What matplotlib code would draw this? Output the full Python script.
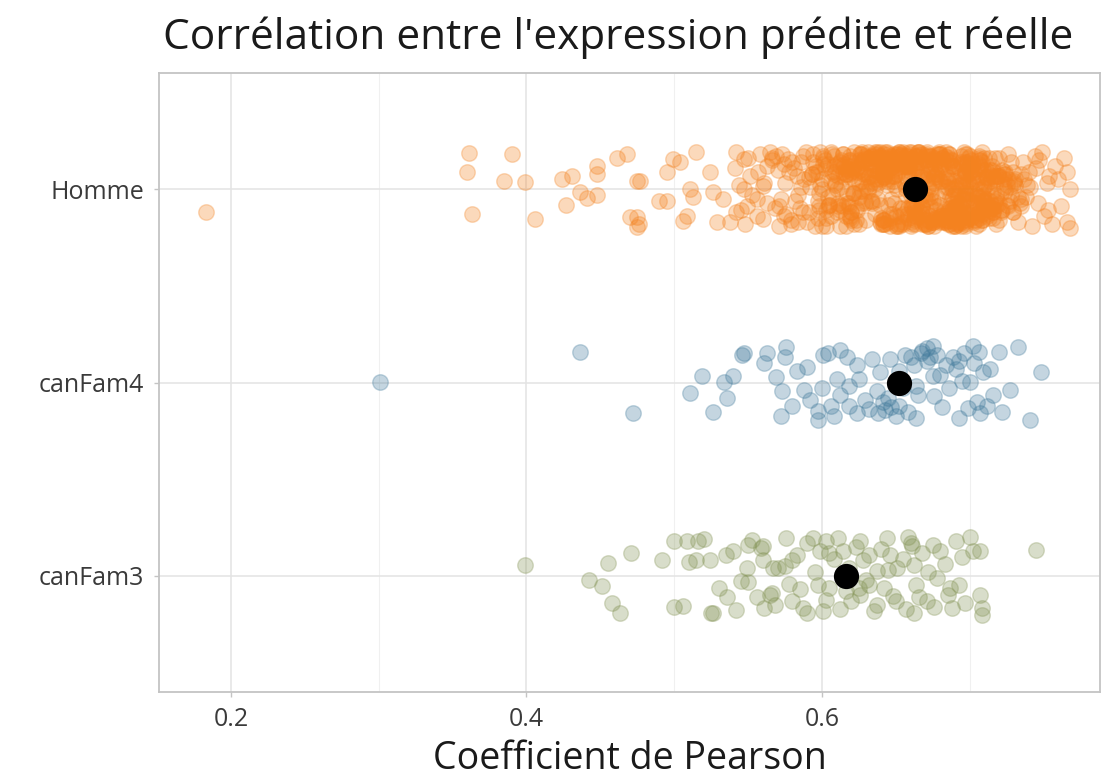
import matplotlib
matplotlib.use("Agg")
import matplotlib.pyplot as plt
from matplotlib.ticker import MultipleLocator

plt.rcParams['font.family'] = ['Open Sans', 'DejaVu Sans']

categories = ["canFam3", "canFam4", "Homme"]
colors = {"Homme": "#F4821F", "canFam4": "#3D7799", "canFam3": "#809050"}
means = {"Homme": 0.663, "canFam4": 0.652, "canFam3": 0.616}

# ---- Homme: sparse left part ----
homme_sparse_x = [0.183, 0.361, 0.360, 0.385, 0.390, 0.399, 0.363, 0.406, 0.424, 0.431,
                  0.427, 0.436, 0.441, 0.448, 0.448, 0.448, 0.461, 0.468, 0.475, 0.470,
                  0.475, 0.477, 0.475, 0.476, 0.490, 0.495, 0.499, 0.504, 0.495, 0.515,
                  0.511, 0.513, 0.509, 0.506, 0.524, 0.526, 0.533, 0.529, 0.538, 0.542,
                  0.547, 0.551, 0.547, 0.549, 0.542, 0.556, 0.560, 0.560, 0.565, 0.570,
                  0.572, 0.574, 0.577, 0.583, 0.587, 0.585, 0.590, 0.596, 0.600, 0.598,
                  0.602, 0.563, 0.568, 0.575, 0.579, 0.581, 0.584, 0.588, 0.591, 0.594,
                  0.597, 0.566, 0.571, 0.586, 0.592, 0.578]
homme_sparse_j = [-0.12, 0.186, 0.09, 0.04, 0.18, 0.035, -0.13, -0.155, 0.05, 0.07,
                  -0.08, -0.015, -0.045, 0.12, 0.08, -0.03, 0.16, 0.18, 0.04, -0.145,
                  -0.195, 0.04, -0.145, -0.18, -0.06, -0.06, 0.155, 0.14, 0.09, 0.19,
                  0.0, -0.04, -0.14, -0.165, 0.09, -0.015, -0.05, -0.17, -0.17, 0.19,
                  0.155, 0.07, 0.0, -0.09, -0.12, -0.05, 0.015, -0.155, 0.19, 0.10,
                  -0.05, -0.14, 0.155, 0.07, 0.17, -0.10, -0.17, 0.09, 0.0, -0.09,
                  0.15, 0.12, -0.10, 0.03, -0.18, 0.11, -0.03, 0.05, -0.12, 0.18,
                  -0.15, 0.16, -0.19, 0.14, 0.01, 0.09]

# ---- Homme: medium-density band ----
homme_mid_x = [0.541, 0.556, 0.569, 0.582, 0.593, 0.548, 0.561, 0.574, 0.587, 0.599,
               0.553, 0.566, 0.579, 0.591, 0.544, 0.558, 0.571, 0.584, 0.596, 0.550,
               0.563, 0.576, 0.589, 0.598, 0.545, 0.557, 0.573, 0.586, 0.595, 0.580]
homme_mid_j = [0.11, -0.14, 0.17, -0.06, 0.08, -0.18, 0.03, 0.13, -0.12, 0.19,
               -0.03, 0.15, -0.16, 0.06, 0.02, 0.18, -0.09, -0.17, 0.12, 0.16,
               -0.07, -0.13, 0.19, -0.02, -0.11, 0.09, 0.18, 0.01, -0.19, 0.14]

# ---- Homme: dense core (part 1) ----
homme_core_x = [
    0.612, 0.647, 0.683, 0.701, 0.625, 0.668, 0.719, 0.594, 0.655, 0.690,
    0.636, 0.708, 0.621, 0.674, 0.697, 0.642, 0.715, 0.603, 0.660, 0.687,
    0.628, 0.653, 0.711, 0.679, 0.617, 0.694, 0.641, 0.723, 0.666, 0.699,
    0.607, 0.684, 0.632, 0.706, 0.659, 0.673, 0.621, 0.718, 0.648, 0.692,
    0.614, 0.661, 0.703, 0.638, 0.677, 0.727, 0.599, 0.689, 0.652, 0.713,
    0.644, 0.671, 0.624, 0.696, 0.709, 0.633, 0.681, 0.657, 0.719, 0.606,
    0.669, 0.702, 0.615, 0.648, 0.686, 0.721, 0.638, 0.663, 0.694, 0.627,
    0.676, 0.611, 0.654, 0.705, 0.641, 0.698, 0.667, 0.716, 0.629, 0.685,
    0.597, 0.639, 0.672, 0.707, 0.651, 0.688, 0.619, 0.724, 0.662, 0.700,
    0.631, 0.679, 0.712, 0.645, 0.604, 0.693, 0.658, 0.717, 0.626, 0.670,
    0.689, 0.616, 0.665, 0.704, 0.637, 0.681, 0.649, 0.728, 0.608, 0.697,
    0.656, 0.620, 0.710, 0.674, 0.643, 0.699, 0.632, 0.686, 0.714, 0.661,
    0.601, 0.678, 0.635, 0.706, 0.668, 0.622, 0.691, 0.650, 0.720, 0.683,
    0.646, 0.700, 0.613, 0.675, 0.709, 0.639, 0.664, 0.695, 0.627, 0.717,
    0.659, 0.688, 0.618, 0.702, 0.653, 0.680, 0.734, 0.630, 0.671, 0.711,
    0.605, 0.666, 0.698, 0.644, 0.684, 0.623, 0.713, 0.655, 0.692, 0.640,
    0.673, 0.610, 0.708, 0.651, 0.696, 0.634, 0.682, 0.725, 0.662, 0.619,
    0.687, 0.647, 0.704, 0.628, 0.670, 0.716, 0.657, 0.699, 0.615, 0.678,
    0.636, 0.693, 0.665, 0.722, 0.609, 0.685, 0.648, 0.707, 0.674, 0.631,
    0.700, 0.654, 0.618, 0.690, 0.661, 0.712, 0.642, 0.679, 0.625, 0.696,
    0.667, 0.603, 0.710, 0.650, 0.688, 0.737, 0.634, 0.676, 0.715, 0.658,
    0.621, 0.694, 0.645, 0.703, 0.669, 0.612, 0.686, 0.729, 0.652, 0.680,
    0.640, 0.709, 0.664, 0.597, 0.697, 0.626, 0.675, 0.718, 0.656, 0.691,
    0.616, 0.683, 0.648, 0.706, 0.663, 0.629, 0.701, 0.672, 0.739, 0.608,
    0.677, 0.637, 0.695, 0.659, 0.714, 0.623, 0.687, 0.644, 0.705, 0.668,
    0.600, 0.660, 0.720, 0.681, 0.633, 0.698, 0.653, 0.711, 0.617, 0.689,
    0.646, 0.703, 0.671, 0.627, 0.692, 0.730, 0.658, 0.614, 0.684, 0.708,
    0.638, 0.676, 0.699, 0.651, 0.719, 0.606, 0.665, 0.693, 0.628, 0.713,
    0.682, 0.620, 0.654, 0.707, 0.641, 0.686, 0.670, 0.726, 0.611, 0.697,
    0.662, 0.700, 0.635, 0.679, 0.716, 0.649, 0.690, 0.624, 0.673, 0.733,
    0.593, 0.657, 0.704, 0.642, 0.685, 0.618, 0.695, 0.666, 0.721, 0.631,
    0.672, 0.709, 0.647, 0.689, 0.613, 0.661, 0.702, 0.639, 0.678, 0.715,
    0.655, 0.694, 0.622, 0.706, 0.668, 0.735, 0.643, 0.683, 0.607, 0.699,
    0.686, 0.629, 0.674, 0.712, 0.650, 0.697, 0.619, 0.663, 0.723, 0.641,
    0.604, 0.680, 0.658, 0.701, 0.636, 0.691, 0.671, 0.714, 0.645, 0.688]
homme_core_j = [
    0.12, -0.05, 0.17, -0.15, 0.03, -0.18, 0.08, 0.14, -0.10, 0.01,
    -0.13, 0.19, -0.02, 0.10, -0.17, 0.06, -0.08, -0.19, 0.15, -0.04,
    0.09, -0.14, 0.02, 0.18, -0.07, 0.13, -0.16, 0.05, -0.11, 0.16,
    -0.03, 0.07, 0.16, -0.12, 0.19, -0.09, 0.11, -0.18, 0.04, -0.15,
    0.18, -0.01, -0.16, 0.14, 0.08, -0.06, 0.02, 0.12, -0.19, -0.10,
    0.05, 0.15, -0.11, -0.05, 0.10, 0.17, -0.14, 0.00, -0.08, 0.19,
    -0.17, 0.04, 0.13, -0.13, 0.16, -0.02, 0.09, -0.18, 0.07, -0.07,
    0.11, -0.09, 0.18, 0.03, -0.16, 0.14, -0.04, -0.12, 0.17, 0.06,
    -0.06, 0.16, -0.19, 0.12, 0.00, -0.11, 0.15, 0.08, -0.15, -0.02,
    0.19, -0.17, 0.06, -0.08, 0.13, 0.02, -0.13, 0.16, 0.10, -0.18,
    -0.10, 0.08, 0.14, -0.19, 0.05, -0.15, 0.18, -0.03, 0.12, 0.09,
    0.02, -0.12, -0.06, 0.17, -0.18, 0.11, 0.07, -0.14, 0.04, 0.15,
    0.16, -0.04, 0.10, 0.06, -0.13, 0.19, -0.09, 0.13, -0.16, -0.01,
    -0.15, 0.12, -0.08, -0.17, 0.01, 0.09, 0.17, -0.05, 0.14, 0.03,
    0.07, -0.19, 0.15, 0.10, -0.10, 0.04, -0.07, -0.16, 0.18, -0.12,
    -0.08, 0.18, -0.03, 0.13, -0.14, 0.11, 0.16, -0.17, -0.09, 0.05,
    0.14, 0.00, -0.16, 0.08, 0.19, -0.07, -0.12, 0.02, 0.11, -0.14,
    -0.18, 0.10, 0.05, 0.15, -0.05, -0.10, 0.17, -0.15, 0.06, 0.13,
    0.03, -0.07, 0.19, -0.11, 0.09, -0.18, 0.12, 0.00, -0.17, 0.16,
    -0.12, 0.14, -0.09, 0.04, 0.16, -0.13, 0.08, 0.18, -0.04, -0.16,
    0.10, -0.15, 0.01, -0.19, 0.12, 0.05, -0.06, 0.15, -0.10, 0.17,
    -0.02, 0.17, 0.12, -0.07, -0.16, 0.14, 0.03, -0.12, 0.19, -0.08,
    0.15, -0.03, -0.14, 0.09, 0.18, -0.01, -0.17, 0.07, 0.13, -0.11,
    -0.14, 0.05, 0.17, -0.04, -0.12, 0.16, 0.10, -0.19, 0.02, 0.08,
    0.06, 0.19, -0.10, 0.11, -0.06, -0.16, 0.14, 0.04, -0.13, 0.18,
    -0.19, -0.08, 0.07, 0.16, 0.13, -0.05, -0.18, 0.10, -0.02, 0.11,
    0.17, 0.09, -0.13, -0.01, -0.17, 0.03, 0.12, -0.09, 0.15, -0.06,
    -0.05, 0.13, 0.04, -0.18, 0.07, -0.14, 0.19, -0.11, 0.08, 0.01,
    0.13, -0.16, 0.16, -0.09, 0.10, 0.18, -0.03, 0.05, -0.07, -0.18,
    -0.11, 0.02, 0.18, 0.13, -0.15, 0.07, -0.19, 0.11, 0.17, -0.04,
    0.08, 0.16, -0.07, -0.16, 0.04, 0.12, -0.13, 0.19, -0.12, 0.14,
    -0.16, -0.11, 0.11, 0.00, 0.15, -0.17, 0.06, -0.08, 0.18, 0.10,
    0.04, 0.14, -0.18, 0.17, -0.09, 0.08, 0.16, -0.14, 0.09, -0.13,
    0.18, -0.06, 0.09, -0.14, 0.11, -0.02, -0.15, 0.17, 0.01, 0.12,
    -0.09, 0.11, -0.15, 0.07, 0.19, -0.18, 0.05, -0.10, 0.14, -0.05]

# ---- Homme: dense core (part 2) ----
homme_core2_x = [
    0.618, 0.702, 0.655, 0.689, 0.631, 0.724, 0.667, 0.608, 0.695, 0.646,
    0.679, 0.623, 0.713, 0.657, 0.698, 0.640, 0.685, 0.602, 0.671, 0.719,
    0.650, 0.694, 0.616, 0.706, 0.663, 0.633, 0.728, 0.677, 0.644, 0.690,
    0.609, 0.672, 0.711, 0.637, 0.684, 0.657, 0.699, 0.625, 0.717, 0.662,
    0.693, 0.641, 0.676, 0.620, 0.708, 0.652, 0.735, 0.614, 0.687, 0.669,
    0.631, 0.706, 0.658, 0.696, 0.605, 0.681, 0.645, 0.722, 0.673, 0.638,
    0.700, 0.618, 0.666, 0.712, 0.649, 0.690, 0.627, 0.679, 0.598, 0.704,
    0.661, 0.633, 0.697, 0.642, 0.716, 0.675, 0.611, 0.686, 0.655, 0.730,
    0.622, 0.688, 0.647, 0.703, 0.668, 0.636, 0.710, 0.659, 0.695, 0.615,
    0.683, 0.652, 0.720, 0.628, 0.674, 0.697, 0.641, 0.706, 0.666, 0.603,
    0.639, 0.709, 0.670, 0.613, 0.692, 0.655, 0.725, 0.682, 0.634, 0.700,
    0.696, 0.626, 0.662, 0.714, 0.644, 0.687, 0.606, 0.676, 0.718, 0.650,
    0.657, 0.691, 0.619, 0.705, 0.680, 0.638, 0.698, 0.664, 0.727, 0.629,
    0.612, 0.678, 0.648, 0.711, 0.635, 0.694, 0.669, 0.622, 0.707, 0.685,
    0.673, 0.640, 0.703, 0.660, 0.690, 0.617, 0.716, 0.653, 0.682, 0.600,
    0.646, 0.718, 0.681, 0.625, 0.699, 0.663, 0.637, 0.710, 0.672, 0.692,
    0.705, 0.658, 0.614, 0.686, 0.644, 0.723, 0.676, 0.632, 0.697, 0.654,
    0.624, 0.694, 0.666, 0.707, 0.651, 0.610, 0.689, 0.720, 0.642, 0.678,
    0.688, 0.635, 0.713, 0.670, 0.604, 0.701, 0.659, 0.683, 0.627, 0.731,
    0.651, 0.699, 0.621, 0.677, 0.715, 0.643, 0.692, 0.664, 0.609, 0.706,
    0.667, 0.711, 0.639, 0.695, 0.656, 0.685, 0.619, 0.724, 0.673, 0.646,
    0.601, 0.680, 0.653, 0.702, 0.630, 0.671, 0.717, 0.647, 0.690, 0.661,
    0.692, 0.643, 0.708, 0.616, 0.684, 0.660, 0.698, 0.635, 0.726, 0.676,
    0.637, 0.672, 0.620, 0.694, 0.712, 0.649, 0.681, 0.607, 0.665, 0.703,
    0.675, 0.616, 0.689, 0.658, 0.721, 0.639, 0.697, 0.668, 0.629, 0.713,
    0.649, 0.706, 0.676, 0.627, 0.691, 0.663, 0.610, 0.684, 0.718, 0.641,
    0.697, 0.633, 0.660, 0.714, 0.645, 0.679, 0.702, 0.621, 0.688, 0.655,
    0.612, 0.687, 0.641, 0.700, 0.670, 0.729, 0.652, 0.693, 0.634, 0.675,
    0.684, 0.658, 0.619, 0.710, 0.646, 0.690, 0.667, 0.705, 0.601, 0.679,
    0.640, 0.697, 0.671, 0.626, 0.715, 0.661, 0.688, 0.644, 0.708, 0.666]
homme_core2_j = [
    -0.07, 0.13, 0.19, -0.16, 0.06, -0.01, -0.12, 0.17, 0.03, -0.19,
    0.15, -0.10, 0.08, -0.03, 0.18, -0.15, 0.01, 0.11, -0.18, 0.07,
    -0.14, 0.04, -0.19, 0.16, 0.10, -0.06, 0.14, -0.11, 0.19, -0.02,
    0.02, 0.17, -0.09, 0.12, -0.17, 0.07, -0.13, 0.15, 0.05, -0.08,
    0.11, -0.18, 0.03, -0.12, 0.14, 0.19, -0.05, 0.09, -0.14, 0.16,
    -0.01, -0.15, 0.12, 0.06, -0.08, 0.16, -0.17, 0.10, -0.04, 0.13,
    0.17, 0.08, -0.14, -0.07, 0.02, -0.19, 0.19, 0.05, -0.11, -0.16,
    -0.10, 0.14, -0.02, 0.18, -0.12, -0.06, 0.07, 0.12, -0.18, 0.04,
    0.05, -0.13, 0.16, -0.17, 0.09, 0.00, -0.09, 0.18, -0.15, 0.12,
    -0.17, 0.10, -0.07, 0.14, -0.02, 0.06, -0.18, 0.13, 0.17, -0.11,
    0.19, -0.04, 0.15, 0.01, -0.15, 0.12, -0.08, -0.13, 0.07, 0.09,
    -0.06, 0.18, -0.16, 0.09, 0.16, -0.10, 0.04, -0.19, -0.03, 0.14,
    0.12, -0.11, 0.06, -0.14, 0.18, 0.03, -0.16, 0.11, 0.01, -0.07,
    -0.19, 0.08, 0.13, -0.05, 0.17, -0.13, 0.06, -0.02, 0.15, -0.16,
    0.00, 0.16, -0.12, 0.19, -0.09, 0.10, -0.01, 0.14, -0.17, 0.05,
    0.15, -0.08, 0.04, -0.18, 0.11, -0.14, 0.18, -0.06, 0.08, -0.12,
    -0.03, 0.12, 0.18, -0.10, 0.15, 0.08, -0.15, 0.01, -0.19, 0.17,
    0.09, -0.17, 0.00, 0.11, -0.19, 0.13, -0.07, 0.16, 0.06, -0.09,
    -0.13, 0.05, -0.11, 0.17, -0.04, 0.15, 0.10, -0.16, 0.18, 0.02,
    0.18, -0.02, 0.10, -0.15, 0.07, 0.12, -0.18, -0.08, 0.03, 0.15,
    -0.08, 0.06, -0.17, 0.02, 0.14, -0.12, 0.17, 0.09, -0.14, 0.11,
    0.13, -0.14, 0.17, -0.11, 0.01, 0.19, -0.06, 0.07, 0.12, -0.18,
    -0.04, 0.19, -0.13, 0.08, -0.16, -0.03, 0.13, 0.16, -0.09, 0.06,
    0.16, 0.01, 0.09, -0.19, 0.05, -0.07, -0.14, 0.18, 0.14, -0.02,
    -0.16, 0.11, -0.04, 0.15, -0.11, 0.17, 0.02, -0.10, 0.08, -0.15,
    0.07, -0.18, 0.16, 0.04, -0.07, 0.14, -0.12, 0.19, -0.05, 0.10,
    0.14, 0.03, -0.19, 0.10, 0.18, -0.16, -0.09, 0.12, 0.00, -0.13,
    -0.11, 0.15, 0.07, -0.06, -0.18, 0.09, 0.18, -0.14, 0.11, 0.04,
    0.01, -0.10, 0.14, 0.16, -0.13, -0.17, 0.06, -0.04, 0.17, 0.19,
    -0.18, 0.09, -0.05, 0.18, 0.12, -0.09, 0.15, 0.02, -0.16, 0.08]

# ---- Homme: right tail ----
homme_tail_x = [0.726, 0.729, 0.731, 0.733, 0.736, 0.738, 0.740, 0.742, 0.744, 0.747,
                0.746, 0.749, 0.750, 0.752, 0.754, 0.756, 0.758, 0.760, 0.762, 0.764,
                0.766, 0.766, 0.768, 0.768, 0.741, 0.735, 0.745, 0.753]
homme_tail_j = [0.18, -0.12, 0.05, -0.17, 0.14, -0.04, 0.09, -0.19, 0.17, 0.15,
                -0.07, 0.19, -0.14, 0.03, 0.07, -0.18, 0.12, 0.05, -0.09, 0.16,
                0.09, -0.17, -0.20, 0.00, 0.01, -0.09, 0.11, -0.11]

# ---- canFam4 ----
cf4_x = [0.301, 0.436, 0.472, 0.519, 0.511, 0.526, 0.534, 0.536, 0.540, 0.546,
         0.547, 0.563, 0.561, 0.576, 0.575, 0.583, 0.573, 0.572, 0.588, 0.592,
         0.601, 0.604, 0.597, 0.597, 0.610, 0.612, 0.617, 0.624, 0.618, 0.608,
         0.624, 0.639, 0.641, 0.637, 0.632, 0.646, 0.647, 0.650, 0.656, 0.664,
         0.665, 0.668, 0.671, 0.675, 0.678, 0.673, 0.664, 0.675, 0.681, 0.689,
         0.691, 0.695, 0.693, 0.702, 0.706, 0.700, 0.705, 0.707, 0.709, 0.714,
         0.716, 0.720, 0.722, 0.727, 0.733, 0.748, 0.741,
         0.660, 0.667, 0.671, 0.662, 0.645, 0.652, 0.638, 0.629, 0.643, 0.655,
         0.684, 0.686, 0.693, 0.699, 0.696, 0.600, 0.625, 0.618, 0.634, 0.612,
         0.590, 0.580, 0.569, 0.606, 0.652, 0.658, 0.676, 0.680, 0.712, 0.703]
cf4_j = [0.005, 0.16, -0.16, 0.035, -0.055, -0.15, 0.005, -0.08, 0.035, 0.14,
         0.15, 0.15, 0.10, 0.185, 0.13, 0.06, -0.045, -0.175, -0.04, -0.09,
         0.14, 0.15, -0.145, -0.195, 0.02, -0.065, 0.13, 0.09, -0.12, -0.175,
         -0.16, 0.055, -0.10, -0.045, -0.135, 0.12, -0.125, -0.175, 0.14, -0.02,
         -0.065, 0.165, 0.11, 0.19, 0.14, 0.13, -0.185, 0.035, -0.125, 0.13,
         0.07, 0.01, -0.185, 0.19, 0.16, 0.005, -0.10, -0.16, 0.055, 0.07,
         -0.065, 0.16, -0.15, -0.04, 0.185, 0.055, -0.195,
         0.13, 0.15, 0.18, 0.09, -0.08, -0.12, -0.16, -0.09, -0.14, -0.03,
         0.09, -0.03, 0.11, -0.13, 0.15, -0.03, 0.02, -0.02, 0.12, 0.17,
         0.08, -0.12, 0.03, -0.12, 0.06, -0.15, -0.07, 0.04, -0.12, 0.10]

# ---- canFam3 ----
cf3_x = [0.399, 0.471, 0.455, 0.442, 0.451, 0.458, 0.463, 0.492, 0.500, 0.509,
         0.516, 0.515, 0.524, 0.506, 0.526, 0.540, 0.553, 0.559, 0.549, 0.545,
         0.536, 0.542, 0.556, 0.561, 0.567, 0.566, 0.560, 0.570, 0.565, 0.576,
         0.583, 0.580, 0.587, 0.594, 0.599, 0.597, 0.603, 0.601, 0.611, 0.614,
         0.626, 0.632, 0.626, 0.632, 0.637, 0.637, 0.644, 0.646, 0.651, 0.648,
         0.658, 0.661, 0.662, 0.664, 0.666, 0.671, 0.675, 0.680, 0.678, 0.685,
         0.688, 0.691, 0.693, 0.700, 0.702, 0.707, 0.707, 0.708, 0.708, 0.745,
         0.510, 0.520, 0.550, 0.525, 0.500,
         0.575, 0.585, 0.590, 0.595, 0.605, 0.608, 0.612, 0.618, 0.620, 0.623,
         0.628, 0.630, 0.635, 0.640, 0.642, 0.655, 0.657, 0.668, 0.672, 0.683,
         0.687, 0.695, 0.697, 0.580, 0.568, 0.578, 0.590, 0.603, 0.616, 0.650,
         0.662, 0.676, 0.605, 0.625, 0.645, 0.660, 0.560, 0.550, 0.535, 0.530]
cf3_j = [0.055, 0.12, 0.065, -0.02, -0.05, -0.14, -0.19, 0.08, 0.18, 0.18,
         0.18, 0.08, 0.08, -0.155, -0.19, 0.13, 0.185, 0.145, 0.04, -0.025,
         -0.11, -0.175, -0.11, -0.165, 0.04, -0.09, 0.155, 0.04, -0.10, 0.195,
         0.11, -0.13, -0.165, 0.195, 0.13, -0.045, -0.125, -0.18, 0.195, 0.13,
         0.18, 0.11, -0.10, -0.045, 0.025, -0.15, 0.195, 0.11, 0.04, -0.105,
         0.20, 0.155, 0.055, -0.045, -0.11, -0.13, 0.16, 0.13, -0.01, -0.10,
         -0.165, 0.18, -0.045, 0.20, 0.13, 0.13, -0.10, -0.165, -0.20, 0.135,
         0.07, 0.19, 0.16, -0.19, -0.16,
         0.05, -0.07, 0.17, 0.02, -0.06, 0.09, -0.17, 0.04, -0.13, 0.15,
         0.08, -0.02, -0.18, 0.14, -0.06, 0.09, -0.17, 0.12, 0.02, 0.06,
         -0.06, 0.10, -0.14, 0.08, -0.15, -0.04, -0.19, 0.18, -0.08, -0.13,
         -0.19, -0.16, 0.12, -0.06, 0.03, 0.17, 0.08, -0.03, 0.11, -0.06]

x_ticks = [0.2, 0.4, 0.6]

homme_x = homme_sparse_x + homme_mid_x + homme_core_x + homme_core2_x + homme_tail_x
homme_j = homme_sparse_j + homme_mid_j + homme_core_j + homme_core2_j + homme_tail_j
series = {"canFam3": (cf3_x, cf3_j), "canFam4": (cf4_x, cf4_j), "Homme": (homme_x, homme_j)}

fig = plt.figure(figsize=(11.12, 7.76), dpi=100)
ax = fig.add_axes([159 / 1112, 1 - 692 / 776, (1100 - 159) / 1112, (692 - 73) / 776])

for i, cat in enumerate(categories):
    xs, js = series[cat]
    ys = [i + 1 + j for j in js]
    ax.scatter(xs, ys, s=125, color=colors[cat], alpha=0.3, edgecolors=colors[cat],
               linewidths=1.0, zorder=2)
for i, cat in enumerate(categories):
    ax.scatter([means[cat]], [i + 1], s=330, color="black", zorder=3, linewidths=0)

ax.set_xlim(0.1513, 0.7882)
ax.set_ylim(0.4, 3.6)
ax.set_yticks([1, 2, 3])
ax.set_yticklabels(categories)
ax.set_xticks(x_ticks)
ax.set_xticklabels([f"{t:.1f}" for t in x_ticks])
ax.xaxis.set_minor_locator(MultipleLocator(0.1))

ax.grid(True, which="major", color="#E3E3E3", linewidth=1.1, zorder=0)
ax.grid(True, which="minor", axis="x", color="#F0F0F0", linewidth=0.8, zorder=0)
ax.set_axisbelow(True)
for sp in ax.spines.values():
    sp.set_color("#C4C4C4")
    sp.set_linewidth(1.3)
ax.tick_params(which="major", length=3.5, width=1, color="#C4C4C4", labelsize=18,
               labelcolor="#3A3A3A")
ax.tick_params(axis="x", pad=7)
ax.tick_params(axis="y", pad=7)
ax.tick_params(which="minor", length=0)

ax.set_xlabel("Coefficient de Pearson", fontsize=27, color="#1A1A1A", labelpad=6)
fig.text(163 / 1112, 1 - 38 / 776, "Corrélation entre l'expression prédite et réelle",
         fontsize=30.5, color="#1A1A1A", ha="left", va="center")

fig.savefig("out.png", dpi=100)
